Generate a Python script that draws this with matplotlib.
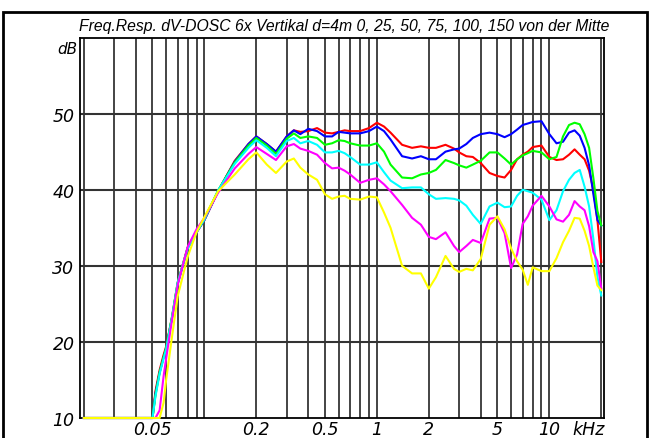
"""
Freq.Resp. dV-DOSC 6x Vertikal - Nachbau der Messkurven
"""

import matplotlib.pyplot as plt
from matplotlib.patches import Rectangle

# Frequenzen in Hz
freq = [20, 50, 52, 55, 58, 60, 65, 70, 80, 90,
        100, 120, 150, 180, 200, 230, 260, 300, 330, 360,
        400, 450, 500, 550, 600, 650, 700, 800, 900, 1000,
        1100, 1200, 1400, 1600, 1800, 2000, 2200, 2500, 2800, 3000,
        3300, 3600, 4000, 4500, 5000, 5500, 6000, 6500, 7000, 7500,
        8000, 9000, 10000, 11000, 12000, 13000, 14000, 15000, 16000, 17000,
        18000, 19000, 20000]

# Pegel in dB, je Messposition
db_red = [10, 10, 13.5, 16.3, 18.3, 19.4, 23.3, 27.8, 32.4, 34.4,
          36.0, 39.8, 43.8, 46.0, 47.0, 46.0, 45.0, 47.0, 47.8, 47.6,
          47.7, 48.1, 47.5, 47.4, 47.6, 47.8, 47.7, 47.7, 48.1, 48.8,
          48.3, 47.5, 45.9, 45.5, 45.7, 45.5, 45.5, 45.9, 45.4, 44.9,
          44.4, 44.3, 43.5, 42.2, 41.8, 41.6, 42.6, 44.0, 44.6, 45.0,
          45.6, 45.8, 44.3, 43.9, 44.0, 44.6, 45.3, 44.6, 44.0, 42.5,
          40.0, 36.0, 30.5]
db_blue = [10, 10, 13.2, 16.0, 18.0, 19.2, 23.2, 27.6, 32.3, 34.4,
           36.0, 39.8, 43.7, 46.0, 47.0, 46.0, 45.0, 47.0, 47.8, 47.3,
           48.0, 47.7, 47.0, 47.0, 47.6, 47.5, 47.4, 47.4, 47.7, 48.3,
           47.7, 46.6, 44.4, 44.1, 44.4, 44.0, 44.0, 45.0, 45.3, 45.4,
           46.0, 46.8, 47.3, 47.5, 47.3, 46.9, 47.3, 47.9, 48.5, 48.7,
           48.9, 49.0, 47.3, 46.1, 46.3, 47.5, 47.8, 47.1, 45.5, 43.2,
           39.4, 36.0, 35.3]
db_green = [10, 10, 13.0, 16.0, 18.0, 19.2, 23.4, 27.8, 32.4, 34.5,
            36.1, 39.9, 43.6, 45.8, 46.8, 45.8, 44.7, 46.7, 47.4, 46.8,
            47.0, 46.8, 45.9, 46.1, 46.5, 46.4, 46.1, 45.8, 45.8, 46.1,
            45.0, 43.3, 41.6, 41.5, 42.0, 42.2, 42.6, 43.9, 43.5, 43.2,
            42.9, 43.3, 43.8, 44.9, 44.9, 44.1, 43.3, 44.0, 44.5, 44.8,
            45.1, 44.9, 44.0, 44.3, 47.0, 48.5, 48.8, 48.6, 47.3, 45.5,
            41.5, 37.2, 35.3]
db_cyan = [10, 10, 12.8, 15.8, 17.8, 19.0, 23.3, 27.8, 32.3, 34.4,
           36.1, 39.9, 43.4, 45.5, 46.5, 45.5, 44.4, 46.4, 46.8, 46.1,
           46.4, 45.9, 44.9, 44.9, 45.1, 44.8, 44.3, 43.3, 43.3, 43.6,
           42.3, 41.2, 40.2, 40.3, 40.3, 39.4, 38.8, 38.9, 38.8, 38.6,
           37.9, 36.7, 35.5, 37.8, 38.3, 37.7, 37.8, 39.2, 40.0, 39.8,
           39.6, 38.7, 36.0, 37.3, 39.8, 41.3, 42.2, 42.6, 40.4, 37.8,
           33.5, 28.5, 26.1]
db_magenta = [10, 10, 10, 11.0, 15.5, 17.8, 23.0, 27.5, 32.5, 34.8,
              36.3, 39.6, 42.8, 44.7, 45.6, 44.7, 43.9, 45.7, 46.0, 45.4,
              45.1, 44.6, 43.5, 42.8, 42.9, 42.5, 42.0, 40.9, 41.3, 41.5,
              40.7, 39.8, 38.0, 36.3, 35.4, 33.8, 33.5, 34.4, 32.6, 31.8,
              32.6, 33.4, 33.0, 36.2, 36.3, 34.3, 29.7, 31.5, 35.5, 36.5,
              37.9, 39.2, 37.8, 36.1, 35.8, 36.7, 38.5, 37.8, 37.3, 35.2,
              31.8, 30.6, 27.0]
db_yellow = [10, 10, 10, 10, 12.0, 15.0, 20.8, 26.0, 31.2, 34.4,
             36.4, 39.8, 42.0, 44.0, 44.9, 43.3, 42.2, 43.7, 44.1, 42.9,
             42.0, 41.3, 39.4, 38.8, 39.1, 39.2, 38.8, 38.7, 39.1, 39.0,
             37.0, 35.0, 30.0, 29.0, 29.0, 27.0, 28.5, 31.3, 29.6, 29.2,
             29.6, 29.4, 30.9, 35.4, 36.5, 34.8, 32.3, 30.6, 29.5, 27.5,
             29.8, 29.3, 29.3, 31.0, 33.1, 34.6, 36.3, 36.2, 34.6, 32.6,
             29.8, 27.4, 26.8]

xtick_pos = [50, 200, 500, 1000, 2000, 5000, 10000]
xtick_labels = ["0.05", "0.2", "0.5", "1", "2", "5", "10"]
ytick_pos = [10, 20, 30, 40, 50]
title = "Freq.Resp. dV-DOSC 6x Vertikal d=4m 0, 25, 50, 75, 100, 150 von der Mitte"

fig = plt.figure(figsize=(6.5, 4.39), dpi=100)
ax = fig.add_axes([80 / 650, 1 - 419 / 439, 523.5 / 650, 380.5 / 439])

ax.set_xscale("log")
ax.set_xlim(19, 20600)
ax.set_ylim(10, 60)

# Gitter
for dec in (10, 100, 1000, 10000):
    for d in range(1, 10):
        f = d * dec
        if 20 <= f <= 20000:
            ax.axvline(f, color="#111111", lw=1.1, zorder=1)
for v in (20, 30, 40, 50):
    ax.axhline(v, color="#333333", lw=1.5, zorder=1)

# Kurven
curves = [(db_red, "#ff0000"), (db_blue, "#0000ff"), (db_green, "#00ff00"),
          (db_cyan, "#00ffff"), (db_magenta, "#ff00ff"), (db_yellow, "#ffff00")]
for vals, col in curves:
    ax.plot(freq, vals, color=col, lw=1.5, clip_on=False, zorder=3)

for s in ax.spines.values():
    s.set_color("black")
    s.set_linewidth(1.3)

ax.set_xticks(xtick_pos)
ax.set_xticklabels(xtick_labels)
ax.set_xticks([], minor=True)
ax.set_yticks(ytick_pos)
ax.tick_params(length=0, labelsize=12.5)
ax.tick_params(axis="x", pad=1.5)
ax.tick_params(axis="y", pad=4)
for lab in ax.get_xticklabels() + ax.get_yticklabels():
    lab.set_fontstyle("italic")
    lab.set_family("DejaVu Sans")

ax.text(-0.004, 58.6, "dB", transform=ax.get_yaxis_transform(), ha="right", va="center",
        fontsize=11, style="italic", family="DejaVu Sans")
fig.text(572 / 650, 1 - 430 / 439, "kHz", ha="left", va="center",
         fontsize=12.5, style="italic", family="DejaVu Sans")

fig.text(344 / 650, 1 - 27 / 439, title, ha="center", va="center", fontsize=11.3,
         style="italic", family=["Liberation Sans Narrow", "Liberation Sans"])

# Rahmen um die ganze Grafik
fig.patches.append(Rectangle((3 / 650, -0.02), 644 / 650, (439 - 13) / 439 + 0.02,
                             transform=fig.transFigure, fill=False, lw=2, color="black"))

fig.savefig("out.png", dpi=100)
